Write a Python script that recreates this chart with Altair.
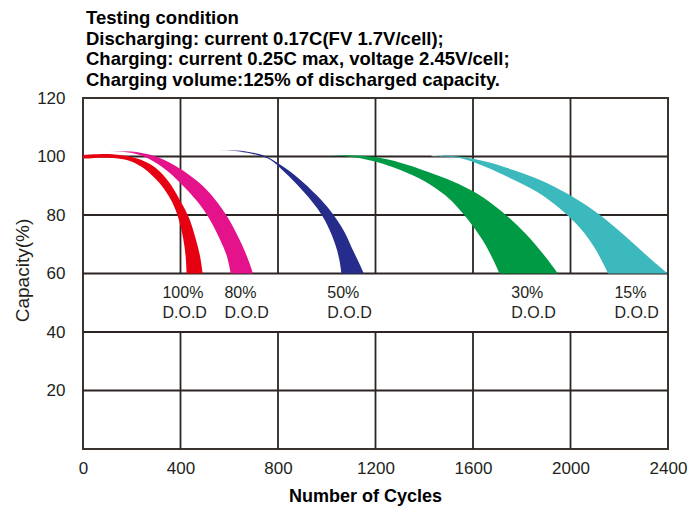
import altair as alt
import pandas as pd

FONT = "Liberation Sans"
INK = "#231f20"
GRID = "#2b2523"

BANDS = ["100%", "80%", "50%", "30%", "15%"]
COLORS = ["#e60012", "#e4128b", "#262c8c", "#009944", "#3bb9bc"]
# fraction of each band's width over which its thin starting tip fades in
FADE = [0.0, 0.2, 0.2, 0.06, 0.07]

# outer (right/upper) edge and inner (left/lower) edge of each band
RED_OUT_X = [0, 60, 120, 180, 240, 300, 350, 395, 435, 462, 480, 491]
RED_OUT_Y = [100.3, 100.8, 100.8, 100.2, 98.8, 96.0, 91.5, 85.5, 79.0, 72.0, 66.0, 60.0]
RED_IN_X = [0, 60, 120, 180, 240, 290, 332, 368, 393, 411, 421, 425]
RED_IN_Y = [99.5, 99.6, 99.5, 98.8, 96.5, 93.0, 89.0, 84.0, 78.5, 72.0, 66.0, 60.0]

PINK_OUT_X = [100, 150, 230, 313, 395, 477, 540, 595, 640, 672, 698]
PINK_OUT_Y = [101.5, 101.9, 101.4, 99.6, 96.0, 91.0, 85.5, 79.0, 72.0, 66.0, 60.0]
PINK_IN_X = [100, 150, 230, 290, 350, 410, 470, 520, 560, 590, 606]
PINK_IN_Y = [101.5, 101.6, 100.6, 98.3, 94.8, 90.0, 84.5, 78.5, 72.0, 66.0, 60.0]

BLUE_OUT_X = [545, 606, 674, 743, 811, 885, 958, 1018, 1072, 1110, 1136, 1152]
BLUE_OUT_Y = [101.8, 102.2, 101.6, 100.3, 97.1, 92.5, 86.8, 81.1, 74.3, 67.5, 63.0, 60.0]
BLUE_IN_X = [545, 606, 674, 715, 770, 825, 893, 961, 1002, 1036, 1052, 1060]
BLUE_IN_Y = [101.8, 102.0, 101.3, 100.5, 98.8, 94.8, 89.1, 82.3, 76.6, 69.7, 64.5, 60.0]

GREEN_OUT_X = [981, 1084, 1193, 1302, 1411, 1520, 1602, 1684, 1766, 1834, 1902, 1948]
GREEN_OUT_Y = [100.3, 100.4, 99.8, 97.9, 94.9, 91.4, 88.0, 83.4, 77.7, 72.0, 65.2, 60.0]
GREEN_IN_X = [981, 1084, 1193, 1302, 1405, 1485, 1540, 1596, 1652, 1709]
GREEN_IN_Y = [100.3, 100.0, 98.4, 95.4, 91.4, 86.8, 82.3, 76.6, 69.7, 60.0]

TEAL_OUT_X = [1430, 1546, 1656, 1765, 1875, 1984, 2094, 2180, 2262, 2335, 2398]
TEAL_OUT_Y = [100.3, 99.9, 98.2, 95.4, 92.0, 87.4, 81.6, 76.0, 70.0, 64.5, 60.0]
TEAL_IN_X = [1430, 1546, 1650, 1755, 1860, 1955, 2040, 2100, 2155]
TEAL_IN_Y = [100.2, 99.5, 96.5, 92.5, 88.0, 82.3, 75.5, 68.6, 60.0]

EDGES = [
    (RED_OUT_X, RED_OUT_Y, RED_IN_X, RED_IN_Y),
    (PINK_OUT_X, PINK_OUT_Y, PINK_IN_X, PINK_IN_Y),
    (BLUE_OUT_X, BLUE_OUT_Y, BLUE_IN_X, BLUE_IN_Y),
    (GREEN_OUT_X, GREEN_OUT_Y, GREEN_IN_X, GREEN_IN_Y),
    (TEAL_OUT_X, TEAL_OUT_Y, TEAL_IN_X, TEAL_IN_Y),
]

LABEL_TOP = ["100%", "80%", "50%", "30%", "15%"]
LABEL_BOTTOM = ["D.O.D", "D.O.D", "D.O.D", "D.O.D", "D.O.D"]
LABEL_X = [326, 580, 1002, 1757, 2180]
LABEL_Y_TOP = 53.3
LABEL_Y_BOTTOM = 46.5

X_TICKS = [0, 400, 800, 1200, 1600, 2000, 2400]
Y_TICKS = [20, 40, 60, 80, 100, 120]
# vertical grid lines are interrupted in the label strip between 40 and 60
V_GRID_X = [400, 800, 1200, 1600, 2000]
V_GRID_SEGMENTS = [(0, 40), (60, 120)]
H_GRID_Y = [20, 40, 60, 80, 100]

TITLE_LINES = [
    "Testing condition",
    "Discharging: current 0.17C(FV 1.7V/cell);",
    "Charging: current 0.25C max, voltage 2.45V/cell;",
    "Charging volume:125% of discharged capacity.",
]

xscale = alt.Scale(domain=[0, 2400], nice=False, zero=False)
yscale = alt.Scale(domain=[0, 120], nice=False, zero=False)

xaxis = alt.Axis(
    values=X_TICKS, format="d", grid=False, ticks=False, domain=False,
    labelFont=FONT, labelFontSize=17, labelColor=INK, labelPadding=11,
    labelFlush=False, labelOverlap=False,
    title="Number of Cycles", titleFont=FONT, titleFontSize=18,
    titleFontWeight="bold", titleColor="#000000",
    titleX=282, titleY=38, titleAlign="center", titleBaseline="top",
)
yaxis = alt.Axis(
    values=Y_TICKS, format="d", grid=False, ticks=False, domain=False,
    labelFont=FONT, labelFontSize=17, labelColor=INK, labelPadding=18,
    labelFlush=False, labelOverlap=False,
    title="Capacity(%)", titleFont=FONT, titleFontSize=19,
    titleFontWeight="normal", titleColor=INK,
    titleX=-61, titleY=172, titleAngle=270, titleAlign="center",
    titleBaseline="middle",
)

X = lambda f="x": alt.X(f"{f}:Q", scale=xscale, axis=xaxis)
Y = lambda f="y": alt.Y(f"{f}:Q", scale=yscale, axis=yaxis)

vgrid_df = pd.DataFrame(
    [{"x": gx, "y": a, "y2": b} for gx in V_GRID_X for (a, b) in V_GRID_SEGMENTS]
)
hgrid_df = pd.DataFrame({"y": H_GRID_Y, "x": [0] * len(H_GRID_Y), "x2": [2400] * len(H_GRID_Y)})

vgrid = alt.Chart(vgrid_df).mark_rule(color=GRID, strokeWidth=1.8).encode(
    x=X(), y=Y(), y2="y2:Q"
)
hgrid = alt.Chart(hgrid_df).mark_rule(color=GRID, strokeWidth=1.8).encode(
    y=Y(), x=X(), x2="x2:Q"
)

layers = [vgrid, hgrid]
for band, color, fade, (ox, oy, ix, iy) in zip(BANDS, COLORS, FADE, EDGES):
    pts = list(zip(ox, oy))[::-1]
    inner = list(zip(ix, iy))
    if inner[0] == pts[-1]:
        inner = inner[1:]
    pts += inner
    df = pd.DataFrame({"x": [p[0] for p in pts], "y": [p[1] for p in pts],
                       "i": list(range(len(pts)))})
    if fade > 0:
        fill = alt.Gradient(
            gradient="linear", x1=0, x2=1, y1=0, y2=0,
            stops=[alt.GradientStop(color="#ffffff", offset=0),
                   alt.GradientStop(color=color, offset=fade),
                   alt.GradientStop(color=color, offset=1)],
        )
    else:
        fill = color
    layers.append(
        alt.Chart(df).mark_line(
            interpolate="catmull-rom", fill=fill, strokeWidth=0,
            strokeOpacity=0, clip=True,
        ).encode(x=X(), y=Y(), order=alt.Order("i:Q"))
    )

labels = pd.DataFrame({
    "x": LABEL_X * 2,
    "y": [LABEL_Y_TOP] * 5 + [LABEL_Y_BOTTOM] * 5,
    "t": LABEL_TOP + LABEL_BOTTOM,
})
text = alt.Chart(labels).mark_text(
    align="left", baseline="middle", font=FONT, fontSize=16, color=INK,
).encode(x=X(), y=Y(), text="t:N")

chart = alt.layer(*layers, text).properties(
    width=585,
    height=351,
    autosize=alt.AutoSizeParams(type="none"),
    padding={"left": 75, "top": 90, "right": 20, "bottom": 64},
    title=alt.TitleParams(
        text=TITLE_LINES, anchor="start", frame="group", font=FONT,
        fontSize=18.5, fontWeight="bold", color="#000000", lineHeight=20.5,
        offset=0, dx=3,
    ),
).configure_view(
    stroke="#3a3431", strokeWidth=2,
)

chart.save("out.html", embed_options={"renderer": "svg", "actions": False})
